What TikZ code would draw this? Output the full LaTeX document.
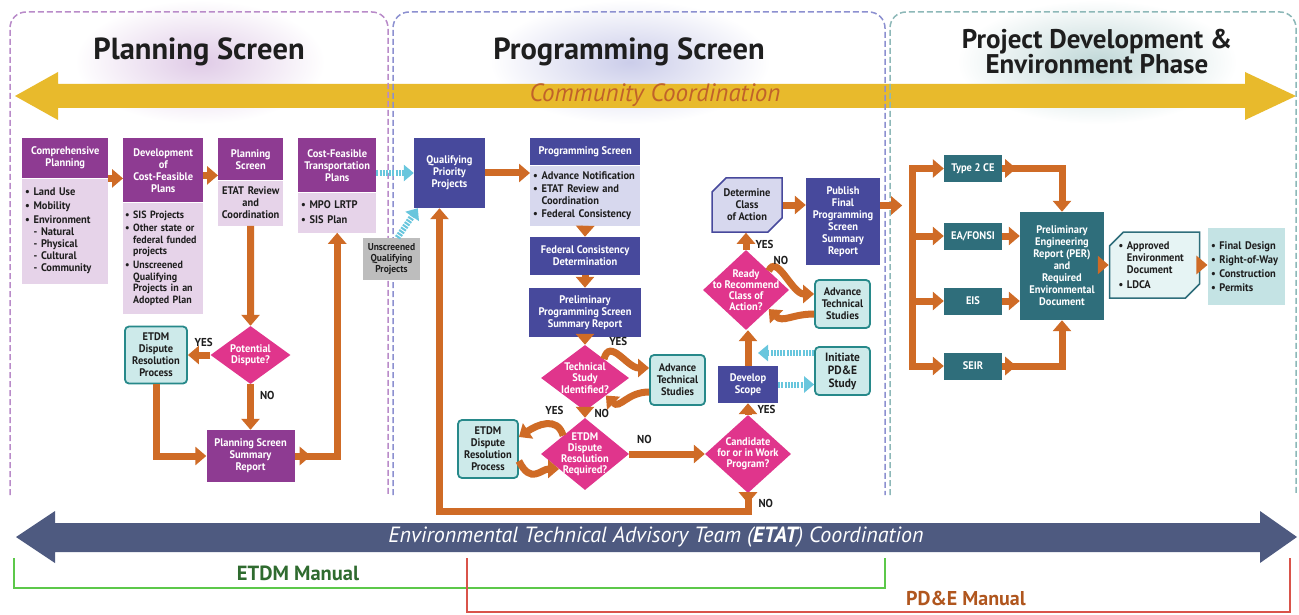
\documentclass[tikz,border=0pt]{standalone}
\usepackage{fontspec}
\setmainfont{PT Sans}
\newfontfamily\cnd[FakeStretch=0.95]{PT Sans Bold}
\usepackage{tikz}
\usetikzlibrary{arrows.meta,positioning,calc,shapes.geometric,shapes.misc}

\definecolor{plpur}{HTML}{8E3B92}
\definecolor{pllav}{HTML}{E6D3E9}
\definecolor{pgblu}{HTML}{47499C}
\definecolor{pglav}{HTML}{D7D8EE}
\definecolor{pdtea}{HTML}{2F6E7B}
\definecolor{pdlt}{HTML}{C4E3E4}
\definecolor{tealb}{HTML}{27898A}
\definecolor{tealf}{HTML}{CDEAEA}
\definecolor{mag}{HTML}{E0358C}
\definecolor{orng}{HTML}{CF6B26}
\definecolor{ltblu}{HTML}{68C6DD}
\definecolor{gold}{HTML}{E8BA2C}
\definecolor{slate}{HTML}{4E5A80}
\definecolor{txt}{HTML}{1E1E1E}
\definecolor{commtxt}{HTML}{C0622A}
\definecolor{etdmgr}{HTML}{2F6B2F}
\definecolor{pdetxt}{HTML}{B0561E}
\definecolor{grnl}{HTML}{5CC84A}
\definecolor{redl}{HTML}{D9534A}
\definecolor{frpl}{HTML}{B98BC9}
\definecolor{frpg}{HTML}{8C90D0}
\definecolor{frpd}{HTML}{8DB8B8}
\definecolor{greyb}{HTML}{BDBDBD}

\newcommand{\bul}{\textbullet\ }
\newcommand{\ind}{\hphantom{\textbullet\ }}

\begin{document}
\begin{tikzpicture}[x=1pt, y=-1pt,
  font=\cnd\fontsize{11}{12}\selectfont,
  frame/.style={dashed, dash pattern=on 6pt off 3pt, line width=1.5pt, rounded corners=16pt},
  title/.style={font=\bfseries\fontsize{30.5}{32}\selectfont, text=txt, align=center},
  hd/.style={anchor=north west, align=center, inner sep=2pt, text=white},
  plhd/.style={hd, fill=plpur},
  plbd/.style={anchor=north west, fill=pllav, align=left, inner xsep=3pt, inner ysep=3pt, text=txt},
  pgbd/.style={plbd, fill=pglav},
  bbox/.style={fill=pgblu, text=white, align=center, inner sep=2pt},
  pbox/.style={fill=plpur, text=white, align=center, inner sep=2pt},
  dbox/.style={fill=pdtea, text=white, align=center, inner sep=2pt, minimum width=58, minimum height=27},
  tbox/.style={draw=tealb, line width=1.8pt, fill=tealf, rounded corners=4pt, text=txt, align=center, inner sep=2pt},
  gbox/.style={fill=greyb, text=txt, align=center, inner sep=1pt},
  cbox/.style={chamfered rectangle, chamfered rectangle corners={north west,south east},
    chamfered rectangle xsep=7pt, chamfered rectangle ysep=7pt, align=center, inner sep=2pt},
  dia/.style={diamond, fill=mag, inner sep=0pt},
  dtxt/.style={text=white, align=center, font=\cnd\fontsize{11}{11.2}\selectfont},
  lbl/.style={font=\cnd\fontsize{11.5}{12}\selectfont, text=txt, inner sep=1pt},
  oarr/.style={draw=orng, line width=7pt, -{Triangle[length=11pt,width=18pt]}},
  oline/.style={draw=orng, line width=7pt, line cap=rect},
  barr/.style={draw=ltblu, line width=6pt, dash pattern=on 2pt off 1.2pt, -{Triangle[length=10pt,width=16pt]}}
]
\useasboundingbox (0,0) rectangle (1299,615);
\fill[white] (0,0) rectangle (1299,615);

% glows behind the phase titles
\shade[inner color=frpl!45, outer color=white] (200,62) ellipse (125 and 62);
\shade[inner color=frpg!45, outer color=white] (630,62) ellipse (140 and 62);
\shade[inner color=frpd!55, outer color=white] (1097,62) ellipse (140 and 62);

% community coordination band
\fill[gold] (15,96) -- (58,72) -- (58,84) -- (1245,84) -- (1245,72) -- (1296,96)
  -- (1245,120) -- (1245,108) -- (58,108) -- (58,120) -- cycle;
\node[font=\itshape\fontsize{25}{26}\selectfont, text=commtxt] (comm) at (655,95) {Community Coordination};

% phase frames
\draw[frame, frpl] (10,495) -- (10,12) -- (388,12) -- (388,495);
\draw[frame, frpg] (393,495) -- (393,12) -- (885,12) -- (885,495);
\draw[frame, frpd] (890,495) -- (890,12) -- (1296,12) -- (1296,495);

\node[title] (tpl) at (199,52) {Planning Screen};
\node[title] (tpg) at (629,52) {Programming Screen};
\node[title, font=\bfseries\fontsize{27}{25}\selectfont] (tpd) at (1097,52) {Project Development \&\\Environment Phase};

% planning screen
\node[plhd, minimum width=86, minimum height=40] (comphd) at (22,138) {Comprehensive\\Planning};
\node[plbd, text width=80, minimum height=105] (compbd) at (comphd.south west)
  {\bul Land Use\\[2pt] \bul Mobility\\[2pt] \bul Environment\\ \ind - Natural\\ \ind - Physical\\ \ind - Cultural\\ \ind - Community};
\node[plhd, minimum width=80, minimum height=64] (devhd) at (123,138) {Development\\of\\Cost-Feasible\\Plans};
\node[plbd, inner xsep=2pt, text width=76, minimum height=111, font=\cnd\fontsize{10.5}{11.6}\selectfont] (devbd) at (devhd.south west)
  {\bul SIS Projects\\[2pt] \bul Other state or\\\ind federal funded\\\ind projects\\[2pt] \bul Unscreened\\\ind Qualifying\\\ind Projects in an\\\ind Adopted Plan};
\node[plhd, minimum width=65, minimum height=42] (pshd) at (218,138) {Planning\\Screen};
\node[plbd, text width=59, minimum height=45, align=center] (psbd) at (pshd.south west) {ETAT Review\\and\\Coordination};
\node[plhd, minimum width=78, minimum height=54] (cfhd) at (298,138) {Cost-Feasible\\Transportation\\Plans};
\node[plbd, text width=72, minimum height=40] (cfbd) at (cfhd.south west) {\bul MPO LRTP\\[3pt] \bul SIS Plan};

\node[dia, minimum width=80, minimum height=58, label={[dtxt]center:{Potential\\Dispute?}}] (pdis) at (250.5,355) {};
\node[tbox, minimum width=62, minimum height=57] (etdma) at (156,355) {ETDM\\Dispute\\Resolution\\Process};
\node[pbox, minimum width=88, minimum height=52] (pssum) at (250.5,456) {Planning Screen\\Summary\\Report};
\node[gbox, minimum width=57, minimum height=42, font=\cnd\fontsize{10}{11}\selectfont] (unsc) at (391.5,259) {Unscreened\\Qualifying\\Projects};

\draw[oarr] (comphd.south east) -- (comphd.south east -| devhd.west);
\draw[oarr] ([yshift=5pt]pshd.south -| devhd.east) -- ([yshift=5pt]pshd.south west);
\draw[oarr] (psbd.south) -- (pdis.north);
\draw[oarr] (pdis.west) -- (etdma.east) node[lbl, pos=0.3, above=4pt] {YES};
\draw[oarr] (etdma.south) |- (pssum.west);
\draw[oarr] (pdis.south) -- (pssum.north) node[lbl, pos=0.25, right=5pt] {NO};
\draw[oarr] (pssum.east) -- ++(16,0);
\draw[oarr] (pssum.east) -| (cfbd.south);

% programming screen
\node[bbox, minimum width=71, minimum height=70] (qual) at (449.5,173) {Qualifying\\Priority\\Projects};
\draw[barr] (cfhd.east |- qual.west) -- (qual.west);
\draw[barr] ([xshift=6pt]unsc.north) -- ([xshift=4pt]qual.south west);
\node[hd, fill=pgblu, minimum width=110, minimum height=27] (pghd) at (530,138) {Programming Screen};
\node[pgbd, text width=104, minimum height=60] (pgbd) at (pghd.south west)
  {\bul Advance Notification\\[1pt] \bul ETAT Review and\\\ind Coordination\\[1pt] \bul Federal Consistency};
\node[bbox, minimum width=110, minimum height=38] (fcd) at (585,256) {Federal Consistency\\Determination};
\node[bbox, minimum width=112, minimum height=49] (ppss) at (585,312.5) {Preliminary\\Programming Screen\\Summary Report};
\node[dia, minimum width=88, minimum height=66, label={[dtxt]center:{Technical\\Study\\Identified?}}] (tsi) at (585,378) {};
\node[tbox, minimum width=55, minimum height=50] (ats1) at (677.5,380) {Advance\\Technical\\Studies};
\node[dia, minimum width=88, minimum height=72, label={[dtxt]center:{ETDM\\Dispute\\Resolution\\Required?}}] (edr) at (585,454) {};
\node[tbox, minimum width=60, minimum height=58] (etdmb) at (488,449) {ETDM\\Dispute\\Resolution\\Process};
\node[dia, minimum width=86, minimum height=78, label={[dtxt]center:{Candidate\\for or in Work\\Program?}}] (cand) at (748,454) {};
\node[bbox, minimum width=60, minimum height=37] (dsc) at (748,384.5) {Develop\\Scope};
\node[dia, minimum width=86, minimum height=80, label={[dtxt]center:{Ready\\to Recommend\\Class of\\Action?}}] (rdy) at (746,290) {};
\node[tbox, minimum width=55, minimum height=48] (ats2) at (842.5,304) {Advance\\Technical\\Studies};
\node[tbox, minimum width=55, minimum height=48, font=\cnd\fontsize{12}{13}\selectfont] (ipd) at (842.5,371) {Initiate\\PD\&E\\Study};
\node[cbox, draw=pgblu, line width=1.5pt, fill=pglav, text=txt, minimum width=70, minimum height=54] (dca) at (747,205) {Determine\\Class\\of Action};
\node[bbox, minimum width=74, minimum height=87] (pub) at (843,221.5) {Publish\\Final\\Programming\\Screen\\Summary\\Report};
\coordinate (tap) at (758,353);

\draw[oarr] (qual.east) -- (qual.east -| pgbd.west);
\draw[oarr] (pgbd.south) -- (fcd.north);
\draw[oarr] (fcd.south) -- (ppss.north);
\draw[oarr] (ppss.south) -- (tsi.north);
\draw[oarr] (tsi.45) .. controls +(6,-22) and +(-22,0) .. ([yshift=12pt]ats1.west)
  node[lbl, pos=0.45, above=4pt] {YES};
\draw[oarr] ([yshift=-12pt]ats1.west) .. controls +(-22,0) and +(14,14) .. (tsi.-40);
\draw[oarr] (tsi.south) -- (edr.north) node[lbl, pos=0.3, right=5pt] {NO};
\draw[oarr] (edr.140) .. controls +(-6,-20) and +(18,-12) .. ([yshift=12pt]etdmb.east)
  node[lbl, pos=0.3, above=6pt] {YES};
\draw[oarr] ([yshift=-12pt]etdmb.east) .. controls +(12,24) and +(-18,0) .. (edr.-150);
\draw[oarr] (edr.east) -- (cand.west) node[lbl, pos=0.2, above=6pt] {NO};
\draw[oarr] (cand.north) -- (dsc.south) node[lbl, pos=0.45, right=5pt] {YES};
\draw[oarr] (cand.south) -- ++(0,18) -| ([xshift=-10pt]qual.south);
\draw[oarr] (cand.south) -- ++(0,10) node[lbl, right=6pt] {NO};
\draw[oarr] (dsc.north) -- (dsc.north |- rdy.south);
\draw[oarr] (rdy.north) -- (rdy.north |- dca.south) node[lbl, pos=0.3, right=5pt] {YES};
\draw[oarr] (rdy.40) .. controls +(8,-18) and +(-22,0) .. ([yshift=10pt]ats2.west)
  node[lbl, pos=0.02, above right=1pt and 0pt] {NO};
\draw[oarr] ([yshift=-10pt]ats2.west) .. controls +(-22,0) and +(14,14) .. (rdy.-40);
\draw[oarr] (dca.east) -- (dca.east -| pub.west);
\draw[barr] (ipd.west |- tap) -- (tap);
\draw[barr] (dsc.east) -- (dsc.east -| ipd.west);

% project development and environment phase
\node[dbox] (t2) at (973,168.5) {Type 2 CE};
\node[dbox] (eaf) at (973,236) {EA/FONSI};
\node[dbox] (eis) at (973,301) {EIS};
\node[dbox] (seir) at (973,366) {SEIR};
\node[dbox, minimum width=84, minimum height=108] (per) at (1062,266) {Preliminary\\Engineering\\Report (PER)\\and\\Required\\Environmental\\Document};
\node[cbox, draw=pdtea, line width=1.5pt, fill=tealf!50, text=txt, align=left, text width=72, minimum height=66] (apd) at (1154.5,265)
  {\bul Approved\\\ind Environment\\\ind Document\\[3pt] \bul LDCA};
\node[fill=pdlt, text=txt, align=left, text width=71, minimum height=77] (fin) at (1246.5,266.5)
  {\bul Final Design\\[2pt] \bul Right-of-Way\\[2pt] \bul Construction\\[2pt] \bul Permits};
\coordinate (bus) at (912,205);

\draw[oarr] ([yshift=16pt]pub.east) -- ++(22,0);
\draw[oline] (bus |- t2.west) -- (bus |- seir.west);
\foreach \b in {t2,eaf,eis,seir}
  \draw[oarr] (bus |- \b.west) -- (\b.west);
\draw[oarr] (t2.east) -- ++(14,0);
\draw[oarr] (t2.east) -| (per.north);
\draw[oarr] (eaf.east) -- (eaf.east -| per.west);
\draw[oarr] (eis.east) -- (eis.east -| per.west);
\draw[oarr] (seir.east) -- ++(14,0);
\draw[oarr] (seir.east) -| (per.south);
\draw[oarr] (per.east |- apd.west) -- (apd.west);
\draw[oarr] (apd.east) -- (apd.east -| fin.west);

% ETAT coordination band
\fill[slate] (16,537) -- (55,511) -- (55,523) -- (1260,523) -- (1260,511) -- (1297,537)
  -- (1260,563) -- (1260,552) -- (55,552) -- (55,563) -- cycle;
\node[font=\itshape\fontsize{22}{23}\selectfont, text=white] (etat) at (656,537)
  {Environmental Technical Advisory Team (\textbf{ETAT}) Coordination};

% manuals
\draw[grnl, line width=2pt] (14,558) -- (14,588) -- (885,588) -- (885,558);
\draw[redl, line width=2pt] (467,558) -- (467,612) -- (1290,612) -- (1290,558);
\node[font=\bfseries\fontsize{20.5}{21}\selectfont, text=etdmgr] (etdmm) at (298,573) {ETDM Manual};
\node[font=\bfseries\fontsize{20}{21}\selectfont, text=pdetxt] (pdem) at (966,598) {PD\&E Manual};
\end{tikzpicture}
\end{document}
